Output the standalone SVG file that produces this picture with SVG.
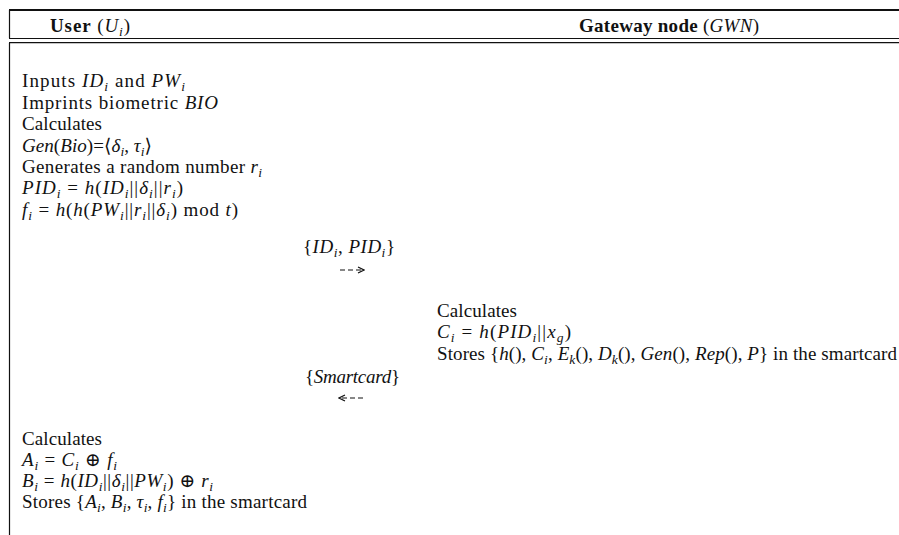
<svg xmlns="http://www.w3.org/2000/svg" width="899" height="535" viewBox="0 0 899 535">
<style>
.t{font-family:"Liberation Serif","DejaVu Serif",serif;font-size:19px;fill:#111}
.i{font-style:italic}
.b{font-weight:bold}
.s{font-size:13.5px;baseline-shift:-4px}
.rule{stroke:#111;fill:none}
.con{stroke:#111;stroke-width:1.1;fill:none;stroke-dasharray:5 3}
</style>
<defs>
<marker id="ah" viewBox="0 0 8 8" refX="7" refY="4" markerWidth="8" markerHeight="8" markerUnits="userSpaceOnUse" orient="auto">
<path d="M1,1 L7,4 L1,7" fill="none" stroke="#111" stroke-width="1.2"/>
</marker>
</defs>
<rect width="899" height="535" fill="#fff"/>
<g id="frame">
<line class="rule" x1="9" y1="10" x2="899" y2="10" stroke-width="2"/>
<line class="rule" x1="9.5" y1="10" x2="9.5" y2="38" stroke-width="1.2"/>
<line class="rule" x1="9" y1="38.5" x2="899" y2="38.5" stroke-width="1.2"/>
<line class="rule" x1="9" y1="42.7" x2="899" y2="42.7" stroke-width="1.2"/>
<line class="rule" x1="9.5" y1="42.7" x2="9.5" y2="535" stroke-width="1.2"/>
</g>
<g id="header-user">
<text class="t" x="50" y="32" textLength="80" lengthAdjust="spacing"><tspan class="b">User</tspan> (<tspan class="i">U</tspan><tspan class="i s">i</tspan>)</text>
</g>
<g id="header-gwn">
<text class="t" x="579" y="32" textLength="180" lengthAdjust="spacing"><tspan class="b">Gateway node</tspan> (<tspan class="i">GWN</tspan>)</text>
</g>
<g id="user-step1">
<text class="t" x="22" y="87" textLength="163" lengthAdjust="spacing">Inputs <tspan class="i">ID</tspan><tspan class="i s">i</tspan> and <tspan class="i">PW</tspan><tspan class="i s">i</tspan></text>
<text class="t" x="22" y="108.5" textLength="196" lengthAdjust="spacing">Imprints biometric <tspan class="i">BIO</tspan></text>
<text class="t" x="22" y="130" textLength="80" lengthAdjust="spacing">Calculates</text>
<text class="t" x="22" y="151.5" textLength="130" lengthAdjust="spacing"><tspan class="i">Gen</tspan>(<tspan class="i">Bio</tspan>)=⟨<tspan class="i">δ</tspan><tspan class="i s">i</tspan>, <tspan class="i">τ</tspan><tspan class="i s">i</tspan>⟩</text>
<text class="t" x="22" y="173" textLength="240" lengthAdjust="spacing">Generates a random number <tspan class="i">r</tspan><tspan class="i s">i</tspan></text>
<text class="t" x="22" y="194" textLength="161" lengthAdjust="spacing"><tspan class="i">PID</tspan><tspan class="i s">i</tspan> = <tspan class="i">h</tspan>(<tspan class="i">ID</tspan><tspan class="i s">i</tspan>||<tspan class="i">δ</tspan><tspan class="i s">i</tspan>||<tspan class="i">r</tspan><tspan class="i s">i</tspan>)</text>
<text class="t" x="22" y="215.5" textLength="216" lengthAdjust="spacing"><tspan class="i">f</tspan><tspan class="i s">i</tspan> = <tspan class="i">h</tspan>(<tspan class="i">h</tspan>(<tspan class="i">PW</tspan><tspan class="i s">i</tspan>||<tspan class="i">r</tspan><tspan class="i s">i</tspan>||<tspan class="i">δ</tspan><tspan class="i s">i</tspan>) mod <tspan class="i">t</tspan>)</text>
</g>
<g id="msg1">
<text class="t" x="303" y="253" textLength="92" lengthAdjust="spacing">{<tspan class="i">ID</tspan><tspan class="i s">i</tspan>, <tspan class="i">PID</tspan><tspan class="i s">i</tspan>}</text>
</g>
<g id="gwn-step">
<text class="t" x="437" y="317" textLength="80" lengthAdjust="spacing">Calculates</text>
<text class="t" x="437" y="338" textLength="134" lengthAdjust="spacing"><tspan class="i">C</tspan><tspan class="i s">i</tspan> = <tspan class="i">h</tspan>(<tspan class="i">PID</tspan><tspan class="i s">i</tspan>||<tspan class="i">x</tspan><tspan class="i s">g</tspan>)</text>
<text class="t" x="437" y="360" textLength="460" lengthAdjust="spacing">Stores {<tspan class="i">h</tspan>(), <tspan class="i">C</tspan><tspan class="i s">i</tspan>, <tspan class="i">E</tspan><tspan class="i s">k</tspan>(), <tspan class="i">D</tspan><tspan class="i s">k</tspan>(), <tspan class="i">Gen</tspan>(), <tspan class="i">Rep</tspan>(), <tspan class="i">P</tspan>} in the smartcard</text>
</g>
<g id="msg2">
<text class="t" x="305" y="383" textLength="95" lengthAdjust="spacing">{<tspan class="i">Smartcard</tspan>}</text>
</g>
<g id="user-step2">
<text class="t" x="22" y="445" textLength="80" lengthAdjust="spacing">Calculates</text>
<text class="t" x="22" y="466" textLength="95" lengthAdjust="spacing"><tspan class="i">A</tspan><tspan class="i s">i</tspan> = <tspan class="i">C</tspan><tspan class="i s">i</tspan> ⊕ <tspan class="i">f</tspan><tspan class="i s">i</tspan></text>
<text class="t" x="22" y="487" textLength="191" lengthAdjust="spacing"><tspan class="i">B</tspan><tspan class="i s">i</tspan> = <tspan class="i">h</tspan>(<tspan class="i">ID</tspan><tspan class="i s">i</tspan>||<tspan class="i">δ</tspan><tspan class="i s">i</tspan>||<tspan class="i">PW</tspan><tspan class="i s">i</tspan>) ⊕ <tspan class="i">r</tspan><tspan class="i s">i</tspan></text>
<text class="t" x="22" y="508" textLength="285" lengthAdjust="spacing">Stores {<tspan class="i">A</tspan><tspan class="i s">i</tspan>, <tspan class="i">B</tspan><tspan class="i s">i</tspan>, <tspan class="i">τ</tspan><tspan class="i s">i</tspan>, <tspan class="i">f</tspan><tspan class="i s">i</tspan>} in the smartcard</text>
</g>
<g id="connectors">
<path class="con" d="M340,270 H364" marker-end="url(#ah)"/>
<path class="con" d="M363,398 H339" marker-end="url(#ah)"/>
</g>
</svg>
